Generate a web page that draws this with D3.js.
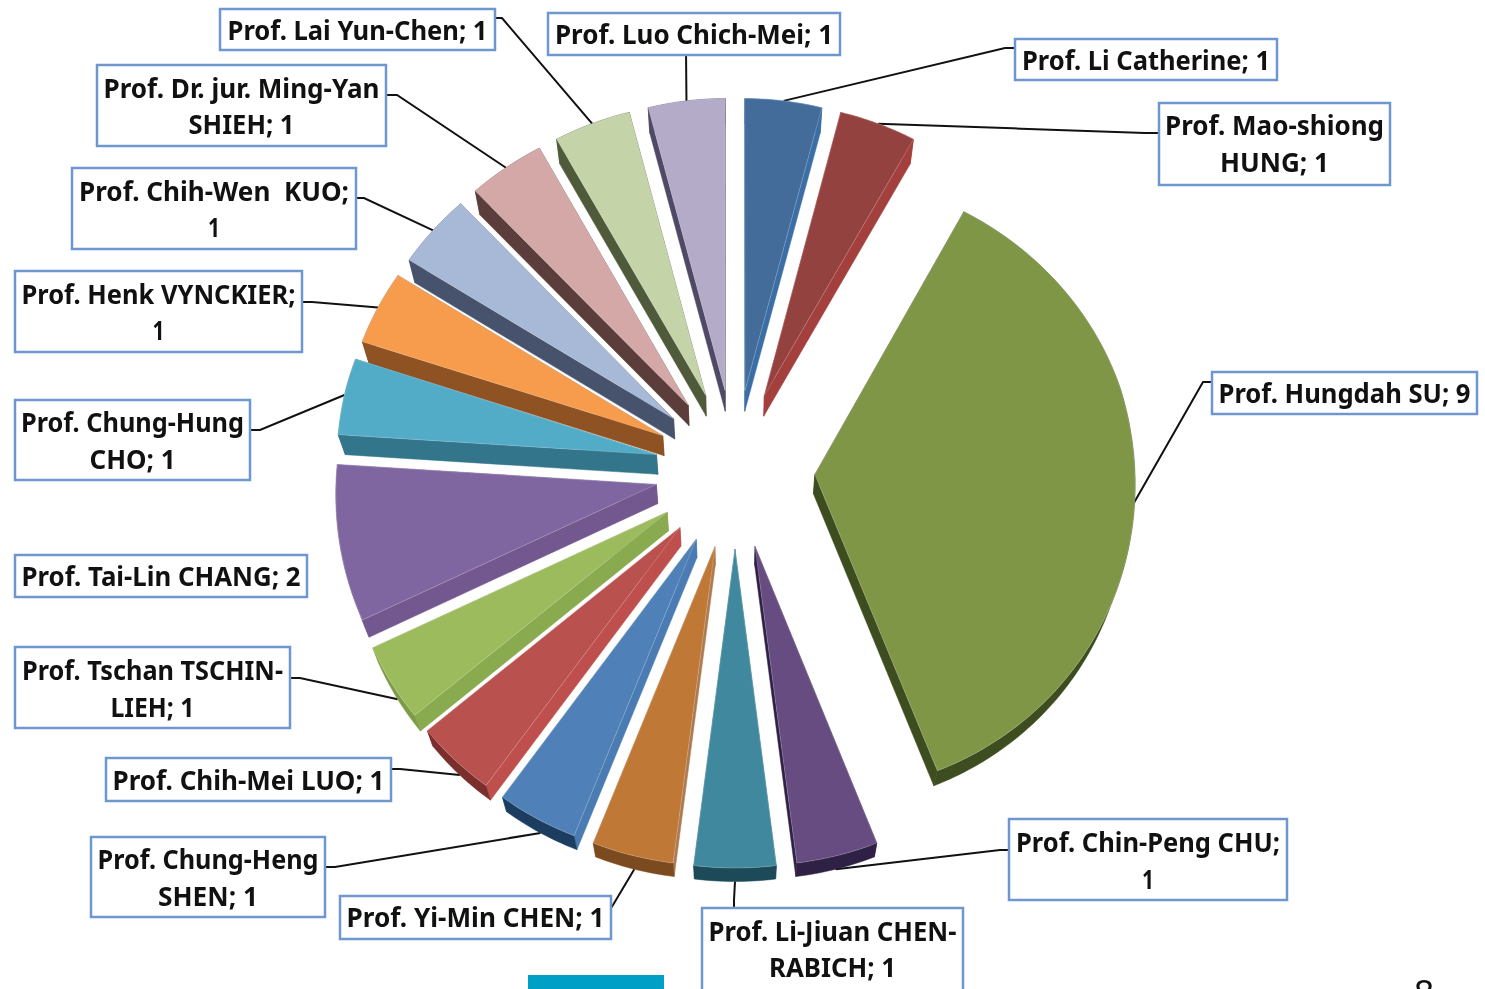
<!DOCTYPE html>
<html>
<head>
<meta charset="utf-8">
<script src="https://cdn.jsdelivr.net/npm/d3@7"></script>
<style>
html, body { margin: 0; padding: 0; background: #fff; overflow: hidden; }
</style>
</head>
<body>
<div id="chart-area"></div>
<script>
var width = 1485;
var height = 989;

// Data, clockwise from 12 o'clock
var names = [
	["Prof. Li Catherine; 1"],
	["Prof. Mao-shiong", "HUNG; 1"],
	["Prof. Hungdah SU; 9"],
	["Prof. Chin-Peng CHU;", "1"],
	["Prof. Li-Jiuan CHEN-", "RABICH; 1"],
	["Prof. Yi-Min CHEN; 1"],
	["Prof. Chung-Heng", "SHEN; 1"],
	["Prof. Chih-Mei LUO; 1"],
	["Prof. Tschan TSCHIN-", "LIEH; 1"],
	["Prof. Tai-Lin CHANG; 2"],
	["Prof. Chung-Hung", "CHO; 1"],
	["Prof. Henk VYNCKIER;", "1"],
	["Prof. Chih-Wen  KUO;", "1"],
	["Prof. Dr. jur. Ming-Yan", "SHIEH; 1"],
	["Prof. Lai Yun-Chen; 1"],
	["Prof. Luo Chich-Mei; 1"]
];
var values = [1, 1, 9, 1, 1, 1, 1, 1, 1, 2, 1, 1, 1, 1, 1, 1];

// Colours per slice
var faceColors = ["#436c9b", "#94423f", "#7e9646", "#664c81", "#3f889e", "#c07837", "#4f80b8", "#b9514e",
	"#9bbb5d", "#8066a0", "#52acc8", "#f79c4c", "#a8b9d8", "#d5a8a8", "#c5d3a9", "#b3abc7"];
var wallColors = ["#3b6ea5", "#a33f3c", "#3d4d1f", "#2e2145", "#2a6a7c", "#ad7b50", "#4a7cb3", "#bf4f4c",
	"#8aaa50", "#73578f", "#33768c", "#8f5222", "#47536c", "#5b3d3b", "#4f5a3b", "#4f4965"];
var rimColors = ["#3b6ea5", "#a33f3c", "#3d4d1f", "#2e2145", "#1d4a59", "#7b4a1f", "#1c3c60", "#7a2f2d",
	"#7e9c45", "#73578f", "#33768c", "#8f5222", "#47536c", "#5b3d3b", "#4f5a3b", "#4f4965"];

// Hand placed label boxes: x, y, w, h, text widths, leader elbow
var boxes = [
	{x: 1015, y: 39, w: 262, h: 41, tw: [248], ty: [60], from: [1015, 48], elbow: [1005, 48]},
	{x: 1159, y: 103, w: 231, h: 82, tw: [219, 109], ty: [125, 162], from: [1159, 133], elbow: [1145, 133]},
	{x: 1212, y: 372, w: 265, h: 42, tw: [252], ty: [393], from: [1212, 382], elbow: [1203, 382]},
	{x: 1009, y: 819, w: 278, h: 81, tw: [264, 12], ty: [842, 879], from: [1009, 850], elbow: [1000, 850]},
	{x: 702, y: 908, w: 261, h: 90, tw: [248, 127], ty: [931, 967], from: [734, 908], elbow: [734, 900]},
	{x: 340, y: 896, w: 271, h: 43, tw: [258], ty: [917], from: [611, 908], elbow: [613, 905]},
	{x: 91, y: 837, w: 234, h: 80, tw: [221, 100], ty: [859, 896], from: [325, 867], elbow: [335, 867]},
	{x: 106, y: 758, w: 285, h: 43, tw: [272], ty: [780], from: [391, 769], elbow: [400, 769]},
	{x: 15, y: 647, w: 275, h: 81, tw: [261, 84], ty: [670, 707], from: [290, 678], elbow: [300, 678]},
	{x: 15, y: 555, w: 292, h: 42, tw: [279], ty: [576]},
	{x: 15, y: 400, w: 235, h: 80, tw: [223, 86], ty: [422, 459], from: [250, 430], elbow: [260, 430]},
	{x: 15, y: 271, w: 287, h: 81, tw: [274, 12], ty: [294, 330], from: [302, 302], elbow: [312, 302]},
	{x: 72, y: 168, w: 284, h: 81, tw: [270, 12], ty: [191, 227], from: [356, 198], elbow: [364, 198]},
	{x: 97, y: 65, w: 289, h: 81, tw: [276, 106], ty: [88, 124], from: [386, 95], elbow: [397, 95]},
	{x: 220, y: 9, w: 275, h: 41, tw: [260], ty: [30], from: [495, 18], elbow: [502, 18]},
	{x: 548, y: 13, w: 292, h: 42, tw: [278], ty: [34], from: [686, 55], elbow: [686, 50]}
];

var svg = d3.select("#chart-area").append("svg")
.attr("width", width)
.attr("height", height)
.style("display", "block")
.style("filter", "blur(0.4px)")

var cx = 735;
var radius = 320;
var explode = 80;

// World height on the pie plane to screen y (the pie is seen in slight perspective)
var y = d3.scaleLinear()
.domain([-400, -80, 80, 400])
.range([868, 549, 390, 98])

const project = (u, v) => [cx + u * (1 - 0.00008 * v), y(v)];

const projectBottom = (u, v) => {
	var p = project(u, v);
	return [cx + (p[0] - cx) * 0.982, p[1] + 19.5 + 0.015 * v];
};

var line = d3.line();

var pie = d3.pie().sort(null).startAngle(0).endAngle(2 * Math.PI)

var slices = pie(values).map((d, i) => {
	var mid = (d.startAngle + d.endAngle) / 2;
	var ox = explode * Math.sin(mid);
	var oy = explode * Math.cos(mid);
	var steps = Math.max(4, Math.round((d.endAngle - d.startAngle) * 180 / Math.PI));
	var rim = d3.range(steps + 1).map(k => {
		var a = d.startAngle + (d.endAngle - d.startAngle) * k / steps;
		return [ox + radius * Math.sin(a), oy + radius * Math.cos(a)];
	});
	return {i: i, apex: [ox, oy], rim: rim, mid: mid, ox: ox, oy: oy};
});

// Back slices first so that front faces cover the walls behind them
var drawOrder = slices.slice().sort((a, b) => b.oy - a.oy);

// Leader lines go under the slices, from the box to the middle of the outer edge
// (the lower half of the pie shows its rim, so those stop at the rim's bottom)
var leaders = svg.append("g")

boxes.forEach((b, i) => {
	if (!b.from) return
	var s = slices[i];
	var u = s.ox + radius * Math.sin(s.mid);
	var v = s.oy + radius * Math.cos(s.mid);
	var end = v < 0 ? projectBottom(u, v) : project(u, v);
	leaders.append("path")
	.attr("d", line([b.from, b.elbow, end]))
	.attr("fill", "none")
	.attr("stroke", "#111111")
	.attr("stroke-width", 2)
})

var g = svg.append("g")

drawOrder.forEach(s => {
	var top = p => project(p[0], p[1]);
	var bot = p => projectBottom(p[0], p[1]);
	var first = s.rim[0];
	var last = s.rim[s.rim.length - 1];

	[first, last].forEach(p => {
		g.append("path")
		.attr("d", line([top(s.apex), top(p), bot(p), bot(s.apex)]) + "Z")
		.attr("fill", wallColors[s.i])
		.attr("stroke", wallColors[s.i])
		.attr("stroke-width", 0.5)
	})

	g.append("path")
	.attr("d", line(s.rim.map(top).concat(s.rim.slice().reverse().map(bot))) + "Z")
	.attr("fill", rimColors[s.i])
	.attr("stroke", rimColors[s.i])
	.attr("stroke-width", 0.5)

	g.append("path")
	.attr("d", line([top(s.apex)].concat(s.rim.map(top))) + "Z")
	.attr("fill", faceColors[s.i])
	.attr("stroke", "#ffffff")
	.attr("stroke-opacity", 0.25)
	.attr("stroke-width", 0.8)
})

// Label boxes
var labels = svg.append("g")

boxes.forEach((b, i) => {
	labels.append("rect")
	.attr("x", b.x)
	.attr("y", b.y)
	.attr("width", b.w)
	.attr("height", b.h)
	.attr("fill", "#ffffff")
	.attr("stroke", "#6f97cf")
	.attr("stroke-width", 2.5)

	names[i].forEach((txt, k) => {
		labels.append("text")
		.attr("x", b.x + b.w / 2)
		.attr("y", b.ty[k])
		.attr("dy", "0.36em")
		.attr("text-anchor", "middle")
		.attr("font-family", "'Noto Sans', sans-serif")
		.attr("font-weight", 700)
		.attr("font-size", "27px")
		.attr("textLength", b.tw[k])
		.attr("lengthAdjust", "spacingAndGlyphs")
		.style("white-space", "pre")
		.style("fill", "#111111")
		.text(txt)
	})
})

// Bits of the slide showing at the bottom edge
svg.append("rect")
.attr("x", 528)
.attr("y", 975)
.attr("width", 136)
.attr("height", 14)
.attr("fill", "#00a0c6")

svg.append("text")
.attr("x", 1424)
.attr("y", 1006)
.attr("text-anchor", "middle")
.attr("font-family", "'Noto Sans', sans-serif")
.attr("font-size", "36px")
.style("fill", "#111111")
.text("8")
</script>
</body>
</html>
